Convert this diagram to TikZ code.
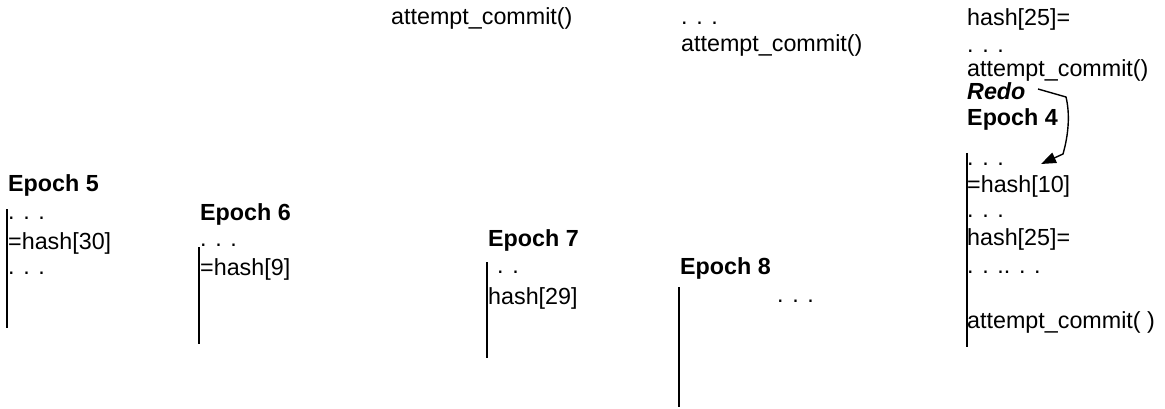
\documentclass[tikz,border=0pt]{standalone}
\usepackage{fontspec}
\setmainfont{Liberation Sans}
\usetikzlibrary{arrows.meta,calc}

\begin{document}
\begin{tikzpicture}[x=1pt,y=-1pt,
  txt/.style={anchor=base west,inner sep=0pt,font=\fontsize{23.3}{26}\selectfont},
  ttl/.style={txt,font=\fontsize{23.3}{26}\selectfont\bfseries},
  tline/.style={line width=1.6pt}]
  \useasboundingbox (0,0) rectangle (1165,409);
  % top row
  \node[txt] (ac1) at (391,25) {attempt\_commit()};
  \node[txt] (dt2) at (681,25) {. . .};
  \node[txt] (ac2) at (681,52) {attempt\_commit()};
  % epoch 5
  \node[ttl] (e5) at (8,192) {Epoch 5};
  \node[txt] (e5a) at (8,219) {. . .};
  \node[txt] (e5b) at (8,249) {=hash[30]};
  \node[txt] (e5c) at (8,274) {. . .};
  \draw[tline] (7,209) -- (7,328);
  % epoch 6
  \node[ttl] (e6) at (200,220) {Epoch 6};
  \node[txt] (e6a) at (200,246) {. . .};
  \node[txt] (e6b) at (200,275) {=hash[9]};
  \draw[tline] (199,247) -- (199,344);
  % epoch 7
  \node[ttl] (e7) at (488,246) {Epoch 7};
  \node[txt] (e7a) at (497,273) {. .};
  \node[txt] (e7b) at (488,304) {hash[29]};
  \draw[tline] (487,262) -- (487,358);
  % epoch 8
  \node[ttl] (e8) at (680,274) {Epoch 8};
  \node[txt] (e8a) at (777,302) {. . .};
  \draw[tline] (679,287) -- (679,407);
  % epoch 4 (redo)
  \node[txt] (r1) at (967,26) {hash[25]=};
  \node[txt] (r2) at (967,53) {. . .};
  \node[txt] (r3) at (967,77) {attempt\_commit()};
  \node[ttl] (redo) at (967,100) {\itshape Redo};
  \node[ttl] (e4) at (967,126) {Epoch 4};
  \node[txt] (r4) at (967,165) {. . .};
  \node[txt] (r5) at (967,193) {=hash[10]};
  \node[txt] (r6) at (967,218) {. . .};
  \node[txt] (r7) at (967,245) {hash[25]=};
  \node[txt] (r8) at (967,273) {. . .. . .};
  \node[txt] (r9) at (967,328) {attempt\_commit( )};
  \draw[tline] (967,153) -- (967,347);
  \coordinate (redoA) at (1038,89);
  \coordinate (redoB) at (1041,164);
  \draw[line width=1.4pt,-{Triangle[length=15pt,width=11pt]}] (redoA) -- (1066,97)
    .. controls (1071,118) and (1067,140) .. (1063,154) -- (redoB);
\end{tikzpicture}
\end{document}
